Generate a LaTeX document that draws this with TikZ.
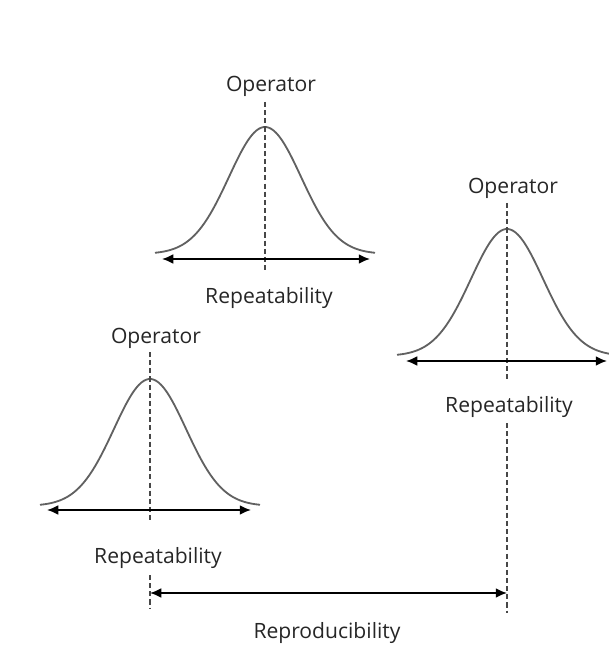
\documentclass[tikz,border=0pt]{standalone}
\usepackage{fontspec}
\setmainfont{Open Sans}
\usetikzlibrary{arrows.meta}
\tikzset{
  bell/.style  = {line width=1.3pt, draw=black!62},
  mid/.style   = {line width=1.2pt, draw=black!72, dash pattern=on 3.6pt off 2.2pt},
  span/.style  = {line width=1.2pt, {Latex[length=8pt,width=7pt]}-{Latex[length=8pt,width=7pt]}},
  lbl/.style   = {font=\fontsize{15}{18}\selectfont, text=black!85, inner sep=0pt, anchor=base},
}
\begin{document}
\begin{tikzpicture}[x=0.025cm, y=-0.025cm]
  \useasboundingbox (0,0) rectangle (608,648);
  % three operators, same spread
  \foreach \cx/\by in {265/254, 507/356, 150/506}
    \draw[bell] plot[domain=-110:110, samples=90, smooth]
      ({\cx+\x}, {\by-127*exp(-(\x*\x)/2600)});
  \node[lbl] (op1) at (271,92) {Operator};
  \node[lbl] (op2) at (513,194) {Operator};
  \node[lbl] (op3) at (156,343) {Operator};
  \node[lbl] (rep1) at (269,303) {Repeatability};
  \node[lbl] (rep2) at (509,412) {Repeatability};
  \node[lbl] (rep3) at (158,563) {Repeatability};
  \node[lbl] (repro) at (327,638) {Reproducibility};
  \coordinate (t1) at (265,102); \coordinate (b1) at (265,272);
  \coordinate (t2) at (507,203); \coordinate (b2) at (507,382);
  \coordinate (t3) at (150,352); \coordinate (b3) at (150,522);
  \coordinate (u2) at (507,423); \coordinate (d2) at (507,613);
  \coordinate (u3) at (150,575); \coordinate (d3) at (150,608);
  \draw[mid] (t1)--(b1); \draw[mid] (t2)--(b2); \draw[mid] (t3)--(b3);
  \draw[mid] (u2)--(d2); \draw[mid] (u3)--(d3);
  \coordinate (l1) at (162,259); \coordinate (r1) at (370,259);
  \coordinate (l2) at (406,361); \coordinate (r2) at (607,361);
  \coordinate (l3) at (47,510);  \coordinate (r3) at (251,510);
  \draw[span] (l1)--(r1); \draw[span] (l2)--(r2); \draw[span] (l3)--(r3);
  \draw[span] (u3|-0,593)--(u2|-0,593);
\end{tikzpicture}
\end{document}
